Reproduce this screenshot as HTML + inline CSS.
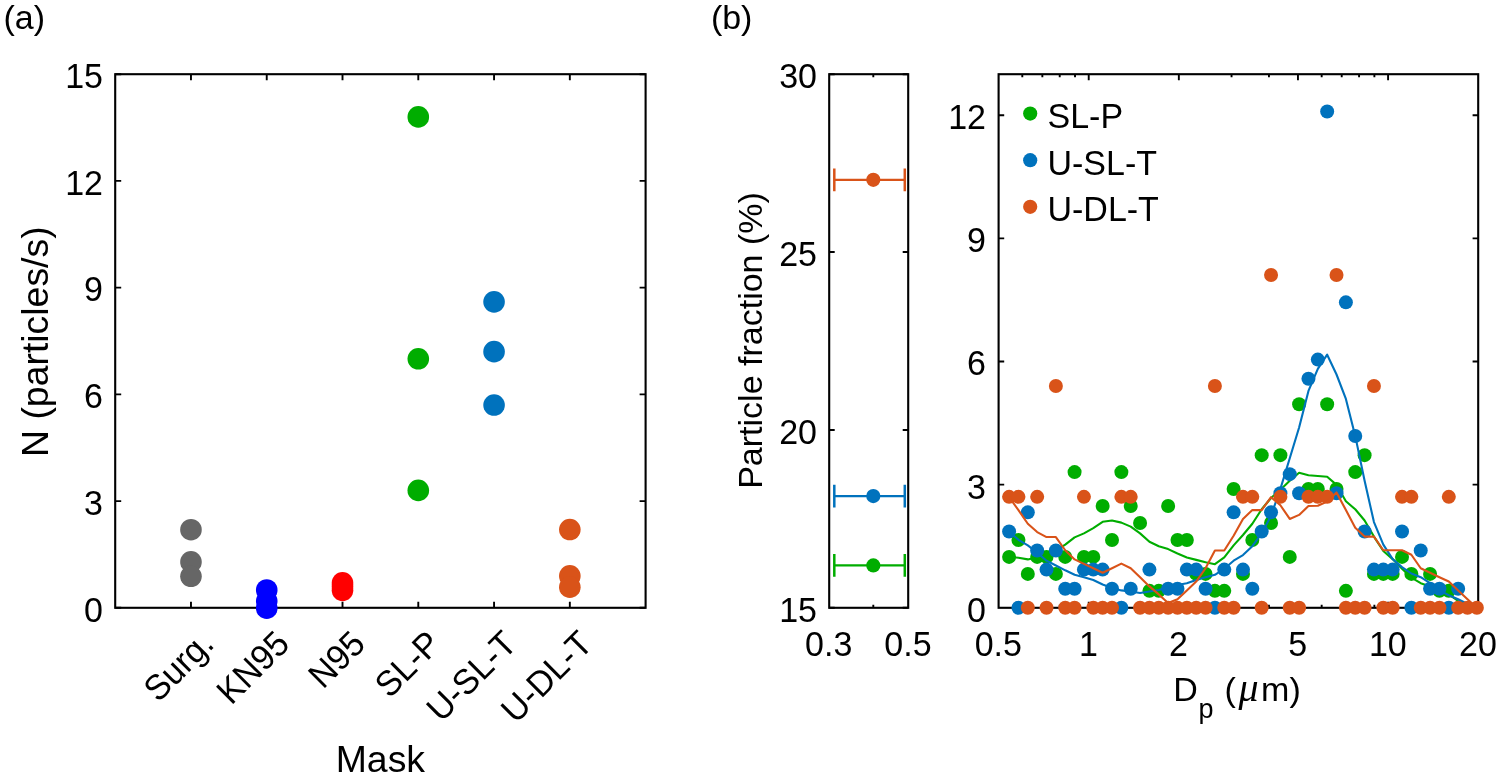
<!DOCTYPE html>
<html><head><meta charset="utf-8"><title>Figure</title>
<style>
html,body{margin:0;padding:0;background:#fff;}
svg{display:block;}
text{font-family:"Liberation Sans",sans-serif;fill:#000;}
.t{font-size:34px;}
.ax{fill:none;stroke:#000;stroke-width:2.1;stroke-linecap:square;}
.tk{stroke:#000;stroke-width:1.9;fill:none;}
</style></head><body>
<svg width="1499" height="778" viewBox="0 0 1499 778">
<rect width="1499" height="778" fill="#fff"/>

<text class="t" x="3.5" y="29.2">(a)</text>
<rect class="ax" x="115.2" y="74.2" width="530.40" height="533.60"/>
<path class="tk" d="M190.97 607.8v-6M190.97 74.2v6"/>
<path class="tk" d="M266.74 607.8v-6M266.74 74.2v6"/>
<path class="tk" d="M342.51 607.8v-6M342.51 74.2v6"/>
<path class="tk" d="M418.29 607.8v-6M418.29 74.2v6"/>
<path class="tk" d="M494.06 607.8v-6M494.06 74.2v6"/>
<path class="tk" d="M569.83 607.8v-6M569.83 74.2v6"/>
<path class="tk" d="M115.2 607.80h6M645.6 607.80h-6"/>
<text class="t" text-anchor="end" transform="translate(103.0,621.6) scale(1,1.04)">0</text>
<path class="tk" d="M115.2 501.08h6M645.6 501.08h-6"/>
<text class="t" text-anchor="end" transform="translate(103.0,514.9) scale(1,1.04)">3</text>
<path class="tk" d="M115.2 394.36h6M645.6 394.36h-6"/>
<text class="t" text-anchor="end" transform="translate(103.0,408.2) scale(1,1.04)">6</text>
<path class="tk" d="M115.2 287.64h6M645.6 287.64h-6"/>
<text class="t" text-anchor="end" transform="translate(103.0,301.4) scale(1,1.04)">9</text>
<path class="tk" d="M115.2 180.92h6M645.6 180.92h-6"/>
<text class="t" text-anchor="end" transform="translate(103.0,194.7) scale(1,1.04)">12</text>
<path class="tk" d="M115.2 74.20h6M645.6 74.20h-6"/>
<text class="t" text-anchor="end" transform="translate(103.0,88.0) scale(1,1.04)">15</text>
<text class="t" text-anchor="end" transform="translate(215.6,645.8) rotate(-45) scale(1,1.04)">Surg.</text>
<text class="t" text-anchor="end" transform="translate(291.3,645.8) rotate(-45) scale(1,1.04)">KN95</text>
<text class="t" text-anchor="end" transform="translate(367.1,645.8) rotate(-45) scale(1,1.04)">N95</text>
<text class="t" text-anchor="end" transform="translate(442.9,645.8) rotate(-45) scale(1,1.04)">SL-P</text>
<text class="t" text-anchor="end" transform="translate(518.7,645.8) rotate(-45) scale(1,1.04)">U-SL-T</text>
<text class="t" text-anchor="end" transform="translate(594.4,645.8) rotate(-45) scale(1,1.04)">U-DL-T</text>
<text text-anchor="middle" font-size="37.4" x="380.4" y="771.7">Mask</text>
<text text-anchor="middle" font-size="37.4" transform="translate(48.2,341.7) rotate(-90)">N (particles/s)</text>
<circle cx="190.97" cy="529.68" r="10.8" fill="#666666"/>
<circle cx="190.97" cy="561.91" r="10.8" fill="#666666"/>
<circle cx="190.97" cy="576.28" r="10.8" fill="#666666"/>
<circle cx="266.74" cy="590.01" r="10.8" fill="#0000ff"/>
<circle cx="266.74" cy="601.04" r="10.8" fill="#0000ff"/>
<circle cx="266.74" cy="608.16" r="10.8" fill="#0000ff"/>
<circle cx="342.51" cy="582.90" r="10.8" fill="#ff0000"/>
<circle cx="342.51" cy="586.46" r="10.8" fill="#ff0000"/>
<circle cx="342.51" cy="590.37" r="10.8" fill="#ff0000"/>
<circle cx="418.29" cy="116.89" r="10.8" fill="#00ad00"/>
<circle cx="418.29" cy="358.79" r="10.8" fill="#00ad00"/>
<circle cx="418.29" cy="490.41" r="10.8" fill="#00ad00"/>
<circle cx="494.06" cy="301.87" r="10.8" fill="#0072bd"/>
<circle cx="494.06" cy="351.67" r="10.8" fill="#0072bd"/>
<circle cx="494.06" cy="405.03" r="10.8" fill="#0072bd"/>
<circle cx="569.83" cy="529.54" r="10.8" fill="#d95319"/>
<circle cx="569.83" cy="575.89" r="10.8" fill="#d95319"/>
<circle cx="569.83" cy="587.17" r="10.8" fill="#d95319"/>
<text class="t" x="710.9" y="29.2">(b)</text>
<rect class="ax" x="829.2" y="74.2" width="79.00" height="533.60"/>
<path class="tk" d="M829.2 607.80h5.5M908.2 607.80h-5.5"/>
<text class="t" text-anchor="end" transform="translate(817.0,621.6) scale(1,1.04)">15</text>
<path class="tk" d="M829.2 429.93h5.5M908.2 429.93h-5.5"/>
<text class="t" text-anchor="end" transform="translate(817.0,443.7) scale(1,1.04)">20</text>
<path class="tk" d="M829.2 252.07h5.5M908.2 252.07h-5.5"/>
<text class="t" text-anchor="end" transform="translate(817.0,265.9) scale(1,1.04)">25</text>
<path class="tk" d="M829.2 74.20h5.5M908.2 74.20h-5.5"/>
<text class="t" text-anchor="end" transform="translate(817.0,88.0) scale(1,1.04)">30</text>
<path class="tk" d="M873.3 607.8v-3M873.3 74.2v3"/>
<text class="t" text-anchor="middle" transform="translate(828.7,655.6) scale(1,1.04)">0.3</text>
<text class="t" text-anchor="middle" transform="translate(907.9,655.6) scale(1,1.04)">0.5</text>
<text text-anchor="middle" font-size="34" transform="translate(761.6,340.5) rotate(-90)">Particle fraction (%)</text>
<path d="M834.3 565.47H904.8" stroke="#00ad00" stroke-width="2.2" fill="none"/>
<path d="M834.3 554.07v22.8M904.8 554.07v22.8" stroke="#00ad00" stroke-width="2.5" fill="none"/>
<circle cx="873.3" cy="565.47" r="7.1" fill="#00ad00"/>
<path d="M834.3 496.10H904.8" stroke="#0072bd" stroke-width="2.2" fill="none"/>
<path d="M834.3 484.70v22.8M904.8 484.70v22.8" stroke="#0072bd" stroke-width="2.5" fill="none"/>
<circle cx="873.3" cy="496.10" r="7.1" fill="#0072bd"/>
<path d="M834.3 179.85H904.8" stroke="#d95319" stroke-width="2.2" fill="none"/>
<path d="M834.3 168.45v22.8M904.8 168.45v22.8" stroke="#d95319" stroke-width="2.5" fill="none"/>
<circle cx="873.3" cy="179.85" r="7.1" fill="#d95319"/>
<rect class="ax" x="998.6" y="74.2" width="479.60" height="533.60"/>
<path class="tk" d="M1022.30 607.8v-3M1022.30 74.2v3"/>
<path class="tk" d="M1042.35 607.8v-3M1042.35 74.2v3"/>
<path class="tk" d="M1059.71 607.8v-3M1059.71 74.2v3"/>
<path class="tk" d="M1075.02 607.8v-3M1075.02 74.2v3"/>
<path class="tk" d="M1231.55 607.8v-3M1231.55 74.2v3"/>
<path class="tk" d="M1268.95 607.8v-3M1268.95 74.2v3"/>
<path class="tk" d="M1321.67 607.8v-3M1321.67 74.2v3"/>
<path class="tk" d="M1341.71 607.8v-3M1341.71 74.2v3"/>
<path class="tk" d="M1359.07 607.8v-3M1359.07 74.2v3"/>
<path class="tk" d="M1374.38 607.8v-3M1374.38 74.2v3"/>
<text class="t" text-anchor="middle" transform="translate(998.3,655.6) scale(1,1.04)">0.5</text>
<path class="tk" d="M1088.72 607.8v-6M1088.72 74.2v6"/>
<text class="t" text-anchor="middle" transform="translate(1088.4,655.6) scale(1,1.04)">1</text>
<path class="tk" d="M1178.84 607.8v-6M1178.84 74.2v6"/>
<text class="t" text-anchor="middle" transform="translate(1178.5,655.6) scale(1,1.04)">2</text>
<path class="tk" d="M1297.96 607.8v-6M1297.96 74.2v6"/>
<text class="t" text-anchor="middle" transform="translate(1297.7,655.6) scale(1,1.04)">5</text>
<path class="tk" d="M1388.08 607.8v-6M1388.08 74.2v6"/>
<text class="t" text-anchor="middle" transform="translate(1387.8,655.6) scale(1,1.04)">10</text>
<text class="t" text-anchor="middle" transform="translate(1477.9,655.6) scale(1,1.04)">20</text>
<text class="t" text-anchor="end" transform="translate(986.0,621.6) scale(1,1.04)">0</text>
<path class="tk" d="M998.6 484.66h5.6M1478.2 484.66h-5.6"/>
<text class="t" text-anchor="end" transform="translate(986.0,498.5) scale(1,1.04)">3</text>
<path class="tk" d="M998.6 361.52h5.6M1478.2 361.52h-5.6"/>
<text class="t" text-anchor="end" transform="translate(986.0,375.3) scale(1,1.04)">6</text>
<path class="tk" d="M998.6 238.38h5.6M1478.2 238.38h-5.6"/>
<text class="t" text-anchor="end" transform="translate(986.0,252.2) scale(1,1.04)">9</text>
<path class="tk" d="M998.6 115.25h5.6M1478.2 115.25h-5.6"/>
<text class="t" text-anchor="end" transform="translate(986.0,129.0) scale(1,1.04)">12</text>
<text font-size="34" y="701.4"><tspan x="1173.3">D</tspan><tspan font-size="27" x="1198.4" dy="16.4">p</tspan><tspan x="1224.6" dy="-16.4">(</tspan><tspan font-family="'Liberation Serif',serif" font-style="italic" font-size="40" x="1238.4">μ</tspan><tspan x="1260.9">m</tspan><tspan x="1289.4">)</tspan></text>
<g fill="#00ad00"><circle cx="1009.10" cy="556.92" r="7"/><circle cx="1018.46" cy="539.96" r="7"/><circle cx="1027.81" cy="573.88" r="7"/><circle cx="1037.17" cy="556.92" r="7"/><circle cx="1046.52" cy="556.92" r="7"/><circle cx="1055.88" cy="573.88" r="7"/><circle cx="1065.23" cy="556.92" r="7"/><circle cx="1074.59" cy="472.11" r="7"/><circle cx="1083.94" cy="556.92" r="7"/><circle cx="1093.30" cy="556.92" r="7"/><circle cx="1102.65" cy="506.03" r="7"/><circle cx="1112.01" cy="539.96" r="7"/><circle cx="1121.36" cy="472.11" r="7"/><circle cx="1130.72" cy="506.03" r="7"/><circle cx="1140.07" cy="522.99" r="7"/><circle cx="1149.43" cy="590.84" r="7"/><circle cx="1158.78" cy="590.84" r="7"/><circle cx="1168.14" cy="506.03" r="7"/><circle cx="1177.49" cy="539.96" r="7"/><circle cx="1186.85" cy="539.96" r="7"/><circle cx="1196.20" cy="573.88" r="7"/><circle cx="1205.56" cy="573.88" r="7"/><circle cx="1214.91" cy="590.84" r="7"/><circle cx="1224.27" cy="590.84" r="7"/><circle cx="1233.62" cy="489.07" r="7"/><circle cx="1242.98" cy="573.88" r="7"/><circle cx="1252.33" cy="539.96" r="7"/><circle cx="1261.69" cy="455.15" r="7"/><circle cx="1271.04" cy="522.99" r="7"/><circle cx="1280.40" cy="455.15" r="7"/><circle cx="1289.75" cy="556.92" r="7"/><circle cx="1299.11" cy="404.27" r="7"/><circle cx="1308.46" cy="489.07" r="7"/><circle cx="1317.82" cy="489.07" r="7"/><circle cx="1327.17" cy="404.27" r="7"/><circle cx="1336.53" cy="489.07" r="7"/><circle cx="1345.89" cy="590.84" r="7"/><circle cx="1355.24" cy="472.11" r="7"/><circle cx="1364.60" cy="455.15" r="7"/><circle cx="1373.95" cy="573.88" r="7"/><circle cx="1383.31" cy="573.88" r="7"/><circle cx="1392.66" cy="573.88" r="7"/><circle cx="1402.02" cy="556.92" r="7"/><circle cx="1411.37" cy="573.88" r="7"/><circle cx="1430.08" cy="573.88" r="7"/><circle cx="1439.44" cy="590.84" r="7"/><circle cx="1448.79" cy="590.84" r="7"/></g>
<path d="M1009.10 556.67L1018.46 557.79L1027.81 559.40L1037.17 557.15L1046.52 554.26L1055.88 550.72L1065.23 544.62L1074.59 537.39L1083.94 533.37L1093.30 528.07L1102.65 521.81L1112.01 520.52L1121.36 522.61L1130.72 526.63L1140.07 533.37L1149.43 541.73L1158.78 546.22L1168.14 549.12L1177.49 553.45L1186.85 557.47L1196.20 559.88L1205.56 562.29L1214.91 564.22L1224.27 557.47L1233.62 545.42L1242.98 534.98L1252.33 523.73L1261.69 509.28L1271.04 498.03L1280.40 489.70L1289.75 480.80L1299.11 472.80L1308.46 475.20L1317.82 476.00L1327.17 476.80L1336.53 484.90L1345.89 501.24L1355.24 509.28L1364.60 520.52L1373.95 536.59L1383.31 551.04L1392.66 559.08L1402.02 568.71L1411.37 577.55L1420.73 583.17L1430.08 586.39L1439.44 590.40L1448.79 594.42L1458.15 600.84L1467.50 605.66L1476.86 607.75" fill="none" stroke="#00ad00" stroke-width="2.1" stroke-linejoin="round"/>
<g fill="#0072bd"><circle cx="1009.10" cy="531.44" r="7"/><circle cx="1018.46" cy="607.80" r="7"/><circle cx="1027.81" cy="512.34" r="7"/><circle cx="1037.17" cy="550.53" r="7"/><circle cx="1046.52" cy="569.62" r="7"/><circle cx="1055.88" cy="550.53" r="7"/><circle cx="1065.23" cy="588.71" r="7"/><circle cx="1074.59" cy="588.71" r="7"/><circle cx="1083.94" cy="569.62" r="7"/><circle cx="1093.30" cy="569.62" r="7"/><circle cx="1102.65" cy="569.62" r="7"/><circle cx="1112.01" cy="588.71" r="7"/><circle cx="1121.36" cy="607.80" r="7"/><circle cx="1130.72" cy="588.71" r="7"/><circle cx="1149.43" cy="569.62" r="7"/><circle cx="1168.14" cy="588.71" r="7"/><circle cx="1177.49" cy="588.71" r="7"/><circle cx="1186.85" cy="569.62" r="7"/><circle cx="1196.20" cy="569.62" r="7"/><circle cx="1205.56" cy="588.71" r="7"/><circle cx="1214.91" cy="607.80" r="7"/><circle cx="1224.27" cy="569.62" r="7"/><circle cx="1233.62" cy="512.34" r="7"/><circle cx="1242.98" cy="569.62" r="7"/><circle cx="1252.33" cy="588.71" r="7"/><circle cx="1261.69" cy="531.44" r="7"/><circle cx="1271.04" cy="512.34" r="7"/><circle cx="1280.40" cy="493.25" r="7"/><circle cx="1289.75" cy="474.16" r="7"/><circle cx="1299.11" cy="493.25" r="7"/><circle cx="1308.46" cy="378.71" r="7"/><circle cx="1317.82" cy="359.61" r="7"/><circle cx="1327.17" cy="111.43" r="7"/><circle cx="1336.53" cy="493.25" r="7"/><circle cx="1345.89" cy="302.34" r="7"/><circle cx="1355.24" cy="435.98" r="7"/><circle cx="1364.60" cy="531.44" r="7"/><circle cx="1373.95" cy="569.62" r="7"/><circle cx="1383.31" cy="569.62" r="7"/><circle cx="1392.66" cy="569.62" r="7"/><circle cx="1402.02" cy="531.44" r="7"/><circle cx="1411.37" cy="607.80" r="7"/><circle cx="1420.73" cy="550.53" r="7"/><circle cx="1430.08" cy="588.71" r="7"/><circle cx="1439.44" cy="588.71" r="7"/><circle cx="1448.79" cy="607.80" r="7"/><circle cx="1458.15" cy="588.71" r="7"/></g>
<path d="M1009.10 531.77L1018.46 539.80L1027.81 545.42L1037.17 552.65L1046.52 560.68L1055.88 565.50L1065.23 570.32L1074.59 574.82L1083.94 577.23L1093.30 579.96L1102.65 584.46L1112.01 587.99L1121.36 590.40L1130.72 591.53L1140.07 592.97L1149.43 591.53L1158.78 589.92L1168.14 587.19L1177.49 585.10L1186.85 583.17L1196.20 579.96L1205.56 577.23L1214.91 574.82L1224.27 568.71L1233.62 560.68L1242.98 555.06L1252.33 546.22L1261.69 533.37L1271.04 515.70L1280.40 488.90L1289.75 458.20L1299.11 427.50L1308.46 390.90L1317.82 368.90L1327.17 354.70L1336.53 374.50L1345.89 398.90L1355.24 435.90L1364.60 480.80L1373.95 522.10L1383.31 544.60L1392.66 559.10L1402.02 567.10L1411.37 573.50L1420.73 577.20L1430.08 583.20L1439.44 590.40L1448.79 595.20L1458.15 599.20L1467.50 604.00L1476.86 607.80" fill="none" stroke="#0072bd" stroke-width="2.1" stroke-linejoin="round"/>
<g fill="#d95319"><circle cx="1009.10" cy="496.86" r="7"/><circle cx="1018.46" cy="496.86" r="7"/><circle cx="1027.81" cy="607.80" r="7"/><circle cx="1037.17" cy="496.86" r="7"/><circle cx="1046.52" cy="607.80" r="7"/><circle cx="1055.88" cy="385.93" r="7"/><circle cx="1065.23" cy="607.80" r="7"/><circle cx="1074.59" cy="607.80" r="7"/><circle cx="1083.94" cy="496.86" r="7"/><circle cx="1093.30" cy="607.80" r="7"/><circle cx="1102.65" cy="607.80" r="7"/><circle cx="1112.01" cy="607.80" r="7"/><circle cx="1121.36" cy="496.86" r="7"/><circle cx="1130.72" cy="496.86" r="7"/><circle cx="1140.07" cy="607.80" r="7"/><circle cx="1149.43" cy="607.80" r="7"/><circle cx="1158.78" cy="607.80" r="7"/><circle cx="1168.14" cy="607.80" r="7"/><circle cx="1177.49" cy="607.80" r="7"/><circle cx="1186.85" cy="607.80" r="7"/><circle cx="1196.20" cy="607.80" r="7"/><circle cx="1205.56" cy="607.80" r="7"/><circle cx="1214.91" cy="385.93" r="7"/><circle cx="1224.27" cy="607.80" r="7"/><circle cx="1233.62" cy="607.80" r="7"/><circle cx="1242.98" cy="496.86" r="7"/><circle cx="1252.33" cy="496.86" r="7"/><circle cx="1261.69" cy="607.80" r="7"/><circle cx="1271.04" cy="274.99" r="7"/><circle cx="1280.40" cy="496.86" r="7"/><circle cx="1289.75" cy="607.80" r="7"/><circle cx="1299.11" cy="607.80" r="7"/><circle cx="1308.46" cy="496.86" r="7"/><circle cx="1317.82" cy="496.86" r="7"/><circle cx="1327.17" cy="496.86" r="7"/><circle cx="1336.53" cy="274.99" r="7"/><circle cx="1345.89" cy="607.80" r="7"/><circle cx="1355.24" cy="607.80" r="7"/><circle cx="1364.60" cy="607.80" r="7"/><circle cx="1373.95" cy="385.93" r="7"/><circle cx="1383.31" cy="607.80" r="7"/><circle cx="1392.66" cy="607.80" r="7"/><circle cx="1402.02" cy="496.86" r="7"/><circle cx="1411.37" cy="496.86" r="7"/><circle cx="1420.73" cy="607.80" r="7"/><circle cx="1430.08" cy="607.80" r="7"/><circle cx="1439.44" cy="607.80" r="7"/><circle cx="1448.79" cy="496.86" r="7"/><circle cx="1458.15" cy="607.80" r="7"/><circle cx="1467.50" cy="607.80" r="7"/><circle cx="1476.86" cy="607.80" r="7"/></g>
<path d="M1009.10 497.23L1018.46 510.08L1027.81 523.73L1037.17 532.09L1046.52 537.07L1055.88 537.07L1065.23 550.24L1074.59 559.40L1083.94 563.90L1093.30 568.23L1102.65 572.73L1112.01 568.23L1121.36 563.57L1130.72 568.23L1140.07 577.23L1149.43 586.39L1158.78 594.42L1168.14 602.93L1177.49 599.24L1186.85 590.40L1196.20 581.57L1205.56 568.23L1214.91 550.56L1224.27 550.56L1233.62 535.78L1242.98 518.92L1252.33 510.08L1261.69 510.08L1271.04 497.23L1280.40 505.26L1289.75 518.92L1299.11 514.90L1308.46 506.06L1317.82 505.74L1327.17 501.57L1336.53 492.41L1345.89 510.08L1355.24 527.75L1364.60 536.59L1373.95 536.59L1383.31 550.24L1392.66 550.24L1402.02 550.24L1411.37 554.74L1420.73 568.23L1430.08 572.73L1439.44 577.23L1448.79 581.57L1458.15 590.40L1467.50 599.24L1476.86 607.75" fill="none" stroke="#d95319" stroke-width="2.1" stroke-linejoin="round"/>
<circle cx="1030.2" cy="113.6" r="7.1" fill="#00ad00"/>
<text class="t" transform="translate(1047.5,128.0) scale(1,1.04)">SL-P</text>
<circle cx="1030.2" cy="160.2" r="7.1" fill="#0072bd"/>
<text class="t" transform="translate(1047.5,174.6) scale(1,1.04)">U-SL-T</text>
<circle cx="1030.2" cy="206.8" r="7.1" fill="#d95319"/>
<text class="t" transform="translate(1047.5,221.2) scale(1,1.04)">U-DL-T</text>
</svg></body></html>
